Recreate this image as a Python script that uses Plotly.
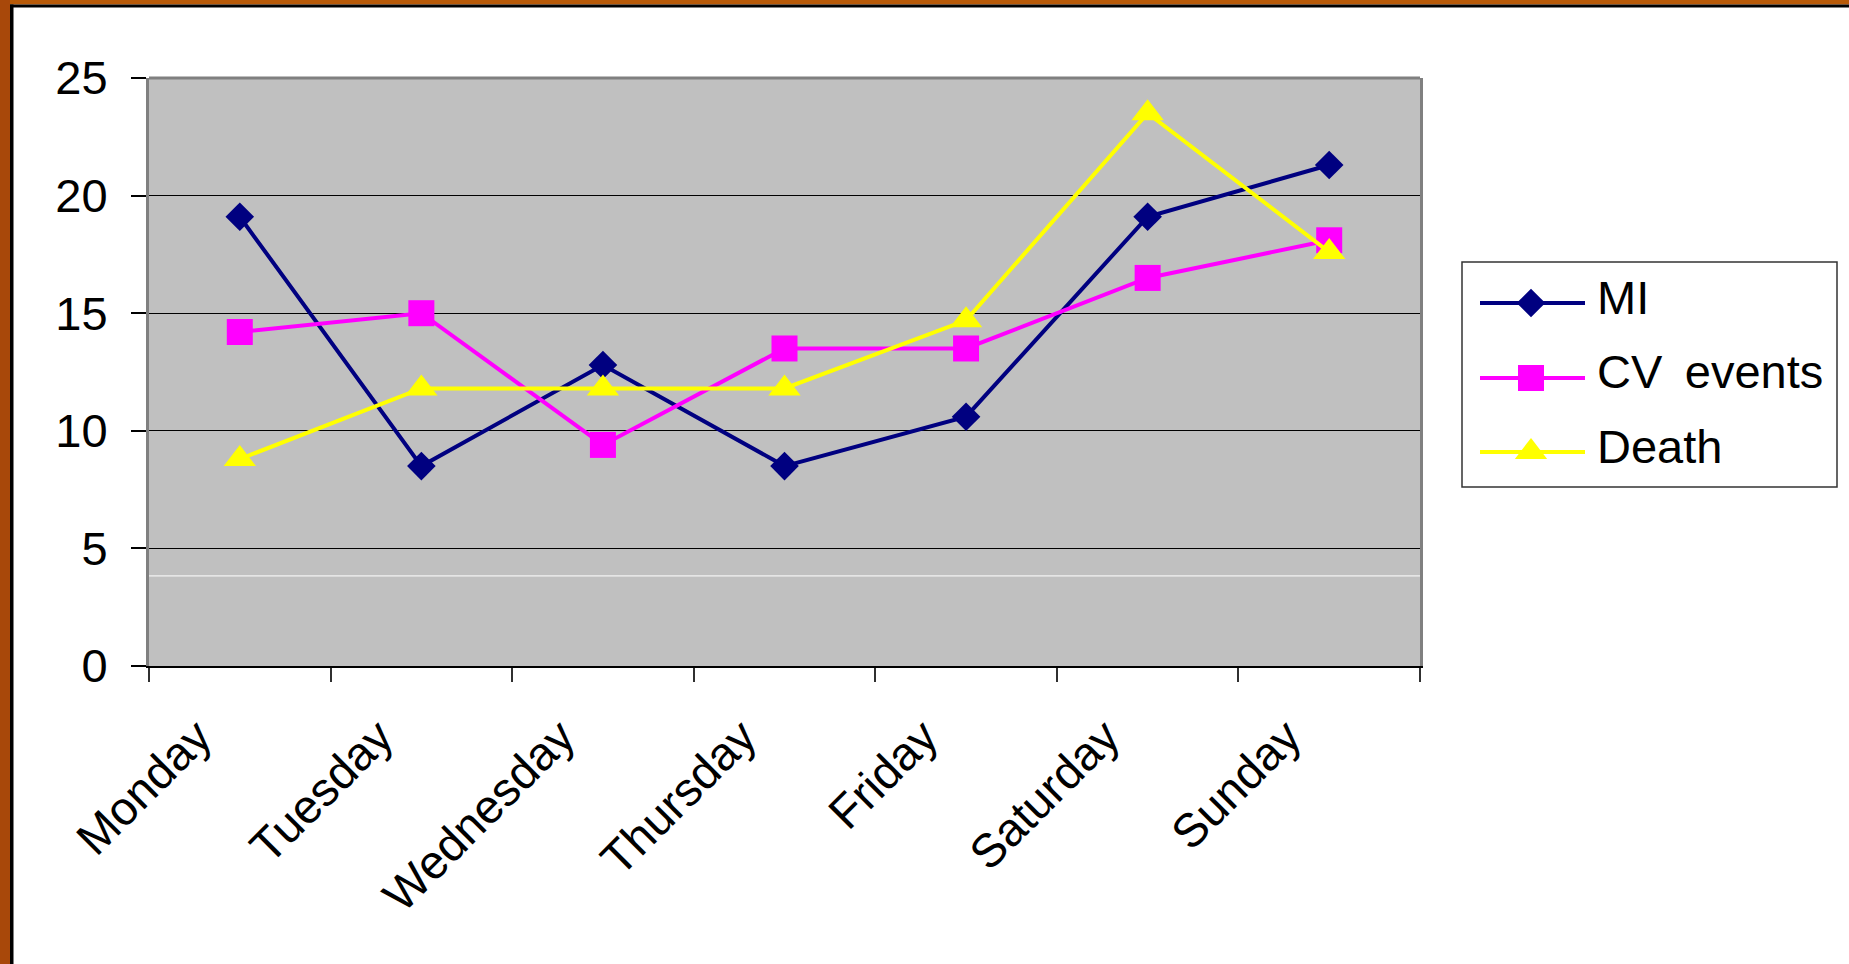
import plotly.graph_objects as go

# Share of events by day of the week (%)
days = ["Monday", "Tuesday", "Wednesday", "Thursday", "Friday", "Saturday", "Sunday"]
mi = [19.1, 8.5, 12.8, 8.5, 10.6, 19.1, 21.3]
cv_events = [14.2, 15.0, 9.4, 13.5, 13.5, 16.5, 18.1]
death = [8.8, 11.8, 11.8, 11.8, 14.7, 23.5, 17.6]
series_names = ["MI", "CV events", "Death"]
y_ticks = [0, 5, 10, 15, 20, 25]
stray_rule_y = 3.83  # thin white rule across the plot area

W, H = 1849, 964
FONT = "Liberation Sans, Arial, Helvetica, sans-serif"
TXT = 47

styles = [
    dict(color="#000080", symbol="diamond", size=22),
    dict(color="#FF00FF", symbol="square", size=26),
    dict(color="#FFFF00", symbol="triangle-up", size=28),
]
LINE_W = 4


def px(x):
    return x / W


def py(y):
    return 1 - y / H


# plot-area box in figure pixels
PL, PR, PT, PB = 149, 1420, 78, 666

fig = go.Figure()

for name, vals, st in zip(series_names, [mi, cv_events, death], styles):
    fig.add_trace(go.Scatter(
        x=days, y=vals, name=name, mode="lines+markers",
        line=dict(color=st["color"], width=LINE_W),
        marker=dict(symbol=st["symbol"], size=st["size"], color=st["color"],
                    line=dict(width=0)),
        showlegend=False, xaxis="x", yaxis="y",
    ))

# hand-built legend (box, key lines, key markers, labels)
LEG_L, LEG_R, LEG_T, LEG_B = 1462, 1837, 262, 487
rows_y = [303, 378, 452]
key_x0, key_x1, key_xm, text_x = 1480, 1585, 1531, 1595

shapes = []
annotations = []

# grey plot-area fill, under the gridlines
shapes.append(dict(type="rect", xref="x domain", yref="y domain",
                   x0=0, x1=1, y0=0, y1=1, fillcolor="#C0C0C0",
                   line=dict(width=0), layer="below"))

shapes.append(dict(type="rect", xref="paper", yref="paper",
                   x0=px(LEG_L), x1=px(LEG_R), y0=py(LEG_B), y1=py(LEG_T),
                   line=dict(color="#333333", width=1.5), fillcolor="white",
                   layer="below"))
for name, st, ry in zip(series_names, styles, rows_y):
    shapes.append(dict(type="line", xref="paper", yref="paper",
                       x0=px(key_x0), x1=px(key_x1), y0=py(ry), y1=py(ry),
                       line=dict(color=st["color"], width=LINE_W)))
    fig.add_trace(go.Scatter(
        x=[key_xm], y=[ry], mode="markers", showlegend=False, hoverinfo="skip",
        marker=dict(symbol=st["symbol"], size=st["size"], color=st["color"],
                    line=dict(width=0)),
        xaxis="x2", yaxis="y2",
    ))
    annotations.append(dict(xref="paper", yref="paper", x=px(text_x), y=py(ry - 6),
                            xanchor="left", yanchor="middle", showarrow=False,
                            text=name.replace(" ", " \u2009"),
                            font=dict(family=FONT, size=TXT, color="black")))

# top edge of the plot area
shapes.append(dict(type="line", xref="x domain", yref="y domain",
                   x0=0, x1=1, y0=1, y1=1, line=dict(color="#808080", width=3)))
# thin white rule
shapes.append(dict(type="line", xref="x domain", yref="y",
                   x0=0, x1=1, y0=stray_rule_y, y1=stray_rule_y,
                   line=dict(color="white", width=1), layer="below"))

# slide frame: orange edge with black rule, top and left
shapes += [
    dict(type="rect", xref="paper", yref="paper", x0=0, x1=1, y0=py(4.5), y1=1,
         fillcolor="#B85A08", line=dict(width=0)),
    dict(type="rect", xref="paper", yref="paper", x0=0, x1=px(10), y0=0, y1=1,
         fillcolor="#A8480A", line=dict(width=0)),
    dict(type="rect", xref="paper", yref="paper", x0=px(10), x1=1, y0=py(7.5), y1=py(4.5),
         fillcolor="black", line=dict(width=0)),
    dict(type="rect", xref="paper", yref="paper", x0=px(10), x1=px(13.5), y0=0, y1=py(4.5),
         fillcolor="black", line=dict(width=0)),
]

fig.update_layout(
    width=W, height=H,
    margin=dict(l=0, r=0, t=0, b=0, autoexpand=False),
    paper_bgcolor="white",
    plot_bgcolor="rgba(0,0,0,0)",
    font=dict(family=FONT, size=TXT, color="black"),
    showlegend=False,
    shapes=shapes,
    annotations=annotations,
    xaxis=dict(
        domain=[px(PL), px(PR)], type="category", categoryorder="array",
        categoryarray=days, range=[-0.5, len(days) - 0.5],
        tickson="boundaries", ticks="outside", ticklen=14, tickwidth=2,
        tickcolor="#303030", tickangle=-45, showline=True, linecolor="black",
        linewidth=2, showgrid=False, zeroline=False, automargin=False,
        ticklabelshift=-42, ticklabelstandoff=22,
        tickfont=dict(family=FONT, size=TXT, color="black"), fixedrange=True,
        anchor="y",
    ),
    yaxis=dict(
        domain=[py(PB), py(PT)], range=[0, 25], tickvals=y_ticks,
        ticks="outside", ticklen=15, tickwidth=2, tickcolor="black",
        showline=True, linecolor="#808080", linewidth=3, mirror=True,
        showgrid=True, gridcolor="black", gridwidth=1, zeroline=False,
        automargin=False, ticklabelstandoff=14,
        tickfont=dict(family=FONT, size=TXT, color="black"), fixedrange=True,
        anchor="x",
    ),
    xaxis2=dict(domain=[0, 1], range=[0, W], visible=False, fixedrange=True, anchor="y2"),
    yaxis2=dict(domain=[0, 1], range=[H, 0], visible=False, fixedrange=True, anchor="x2"),
)

fig.write_html("out.html")
